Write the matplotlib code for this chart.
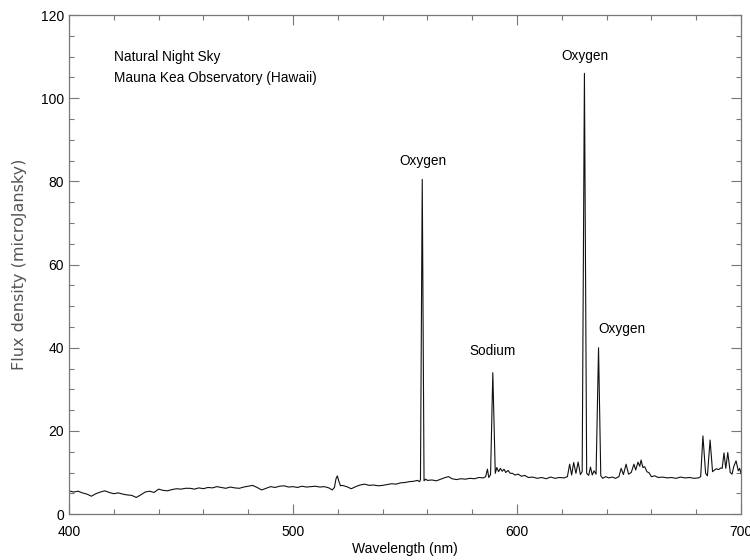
import matplotlib
matplotlib.use("Agg")
import matplotlib.pyplot as plt
from matplotlib.ticker import MultipleLocator

# spectrum (wavelength in nm, flux in microJansky)
wavelength = [
    400, 402, 404, 406, 408, 410, 412, 414, 416, 418, 420, 422, 424, 426, 428,
    430, 432, 434, 436, 438, 440, 442, 444, 446, 448, 450, 452, 454, 456, 458,
    460, 462, 464, 466, 468, 470, 472, 474, 476, 478, 480, 482, 484, 486, 488,
    490, 492, 494, 496, 498, 500, 502, 504, 506, 508, 510, 512, 514, 516,
    517.5, 518.5, 519.2, 519.8, 520.4, 521.2, 522, 524, 526, 528, 530, 532,
    534, 536, 538, 540, 542, 544, 546, 548, 550, 552, 554, 555.5, 556.5,
    556.9, 557.7, 558.5, 559.2, 560, 562, 564, 566, 568, 569.5, 571, 573,
    575, 577, 579, 581, 583, 585, 586, 586.8, 587.4, 588.2, 589.2, 590.3,
    591, 591.8, 592.6, 593.4, 594.2, 595, 596, 597, 598, 599, 600.5, 602,
    603.5, 605, 607, 609, 611, 613, 615, 617, 619, 621, 622.5, 623.5, 624.4,
    625.3, 626.3, 627.3, 628.3, 629.1, 630.1, 631.1, 632, 632.8, 633.6,
    634.4, 635.3, 636.4, 637.4, 638.3, 639.5, 641, 642.5, 644, 645.5, 646.5,
    647.5, 648.7, 649.8, 651, 652.2, 653, 654, 654.8, 655.4, 656.2, 657, 658,
    659, 660, 661.5, 663, 665, 667, 669, 671, 673, 675, 677, 679, 681, 682,
    683, 684.2, 685, 686.2, 687.3, 688.2, 689, 690, 691, 691.6, 692.4, 693.2,
    694.1, 695.2, 696, 696.8, 697.8, 698.8, 699.4, 700,
]
flux = [
    5.6, 5.3, 5.5, 5.1, 4.8, 4.3, 4.9, 5.3, 5.6, 5.2, 4.9, 5.1, 4.8, 4.6, 4.5,
    4.0, 4.6, 5.3, 5.5, 5.2, 6.0, 5.7, 5.6, 5.9, 6.1, 6.0, 6.2, 6.2, 6.0, 6.3,
    6.1, 6.4, 6.3, 6.6, 6.4, 6.2, 6.5, 6.3, 6.2, 6.5, 6.7, 6.9, 6.4, 5.8, 6.2,
    6.6, 6.4, 6.7, 6.8, 6.5, 6.6, 6.4, 6.7, 6.5, 6.6, 6.7, 6.5, 6.6, 6.3,
    5.8, 6.4, 8.5, 9.2, 8.0, 6.8, 6.9, 6.6, 6.1, 6.6, 7.0, 7.2,
    6.9, 7.0, 6.8, 6.9, 7.1, 7.3, 7.2, 7.5, 7.6, 7.8, 7.9, 8.1, 7.8,
    8.3, 80.5, 8.0, 8.4, 8.1, 8.2, 8.0, 8.4, 8.8, 9.0, 8.5, 8.3,
    8.5, 8.4, 8.6, 8.5, 8.8, 8.7, 9.0, 10.8, 8.8, 9.5, 34.0, 9.8,
    11.2, 10.2, 11.0, 10.3, 10.8, 10.0, 10.5, 9.8, 9.8, 9.4, 9.6, 9.1,
    9.3, 8.8, 8.9, 8.6, 8.8, 8.5, 8.9, 8.6, 8.8, 8.7, 9.0, 12.0, 9.4,
    12.4, 9.8, 12.5, 9.5, 10.2, 106.0, 9.8, 9.3, 11.3, 9.4,
    10.4, 9.6, 40.0, 9.2, 8.6, 9.0, 8.7, 8.9, 8.6, 9.0, 11.0,
    9.5, 12.0, 9.6, 10.0, 12.0, 10.6, 12.5, 11.5, 13.0, 11.2, 11.4, 10.2,
    9.9, 9.0, 9.2, 8.8, 8.9, 8.7, 8.8, 8.6, 8.9, 8.7, 8.8, 8.6, 8.7, 9.0,
    18.8, 9.8, 9.2, 17.8, 10.2, 10.6, 10.9, 10.7, 11.1, 11.0, 14.7, 11.0,
    14.8, 10.0, 9.6, 11.5, 12.8, 10.4, 11.0, 9.8,
]

# line labels: text, x (nm), y (flux)
line_names = ["Oxygen", "Sodium", "Oxygen", "Oxygen"]
line_x = [558, 589, 630.5, 647]
line_y = [84.8, 39.3, 110.2, 44.6]

plt.rcParams['font.family'] = ['Liberation Sans', 'DejaVu Sans']

fig = plt.figure(figsize=(7.5, 5.6), dpi=100)
ax = fig.add_axes([0.092, 0.082, 0.896, 0.891])

ax.plot(wavelength, flux, color='#111111', linewidth=0.8)

for name, x, y in zip(line_names, line_x, line_y):
    ax.text(x, y, name, ha='center', va='center', fontsize=9.8)

ax.text(420, 110, "Natural Night Sky", ha='left', va='center', fontsize=9.8)
ax.text(420, 104.8, "Mauna Kea Observatory (Hawaii)", ha='left', va='center',
        fontsize=9.8)

ax.set_xlim(400, 700)
ax.set_ylim(0, 120)
ax.xaxis.set_major_locator(MultipleLocator(100))
ax.xaxis.set_minor_locator(MultipleLocator(20))
ax.yaxis.set_major_locator(MultipleLocator(20))
ax.yaxis.set_minor_locator(MultipleLocator(5))

ax.tick_params(which='both', direction='in', top=True, right=True,
               color='#777777', labelsize=10)
ax.tick_params(which='major', length=7, width=0.8)
ax.tick_params(which='minor', length=3.5, width=0.8)
ax.tick_params(axis='x', which='major', pad=8)
for side in ax.spines.values():
    side.set_color('#777777')
    side.set_linewidth(0.9)

ax.set_xlabel("Wavelength (nm)", fontsize=10, labelpad=2)
ax.set_ylabel("Flux density (microJansky)", fontsize=11.5, color='#555555',
              family=['DejaVu Sans'], labelpad=10)

fig.savefig("out.png", dpi=100)
